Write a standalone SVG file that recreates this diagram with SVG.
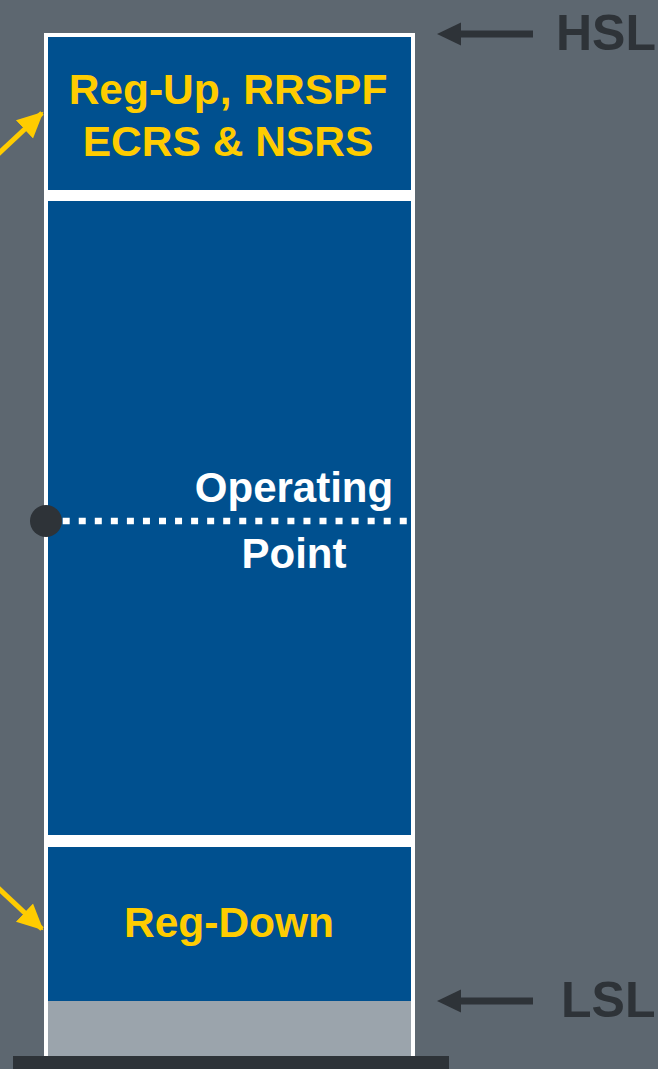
<svg xmlns="http://www.w3.org/2000/svg" width="658" height="1069" viewBox="0 0 658 1069">
<style>
.blue{fill:#00508f}
.y{fill:#ffcc00;font-family:"Liberation Sans",Arial,sans-serif;font-weight:bold;font-size:42.5px;text-anchor:middle}
.w{fill:#ffffff;font-family:"Liberation Sans",Arial,sans-serif;font-weight:bold;font-size:42px;text-anchor:middle}
.d{fill:#2e3338;font-family:"Liberation Sans",Arial,sans-serif;font-weight:bold;font-size:50px}
</style>
<defs>
<marker id="ya" markerUnits="userSpaceOnUse" markerWidth="30" markerHeight="30" viewBox="0 0 30 30" refX="24" refY="15" orient="auto">
<path d="M0,2.5 L26,15 L0,27.5 Z" fill="#ffcc00"/>
</marker>
<marker id="da" markerUnits="userSpaceOnUse" markerWidth="26" markerHeight="26" viewBox="0 0 26 26" refX="11" refY="13" orient="auto">
<path d="M0,1.5 L24,13 L0,24.5 Z" fill="#2e3338"/>
</marker>
</defs>
<rect x="0" y="0" width="658" height="1069" fill="#5d6770"/>
<g id="column">
<rect x="44" y="33" width="371" height="1030" fill="#ffffff"/>
<rect x="48" y="1001" width="363" height="62" fill="#9ba4ac"/>
<rect x="13" y="1056" width="436" height="13" fill="#2e3338"/>
</g>
<g id="regup">
<rect class="blue" x="48" y="37" width="363" height="153"/>
<text class="y" x="228" y="104">Reg-Up, RRSPF</text>
<text class="y" x="228" y="156">ECRS &amp; NSRS</text>
</g>
<g id="operating">
<rect class="blue" x="48" y="201" width="363" height="634"/>
<text class="w" x="294" y="502">Operating</text>
<text class="w" x="294" y="568">Point</text>
</g>
<g id="regdown">
<rect class="blue" x="48" y="847" width="363" height="154"/>
<text class="y" x="229" y="937">Reg-Down</text>
</g>
<g id="connectors">
<line x1="62.7" y1="521" x2="407" y2="521" stroke="#ffffff" stroke-width="6.7" stroke-dasharray="7 9.05"/>
<circle cx="46" cy="521" r="16" fill="#2e3338"/>
<line x1="-4" y1="156" x2="42" y2="113" stroke="#ffcc00" stroke-width="5" marker-end="url(#ya)"/>
<line x1="-4" y1="886" x2="42" y2="929" stroke="#ffcc00" stroke-width="5" marker-end="url(#ya)"/>
<line x1="533" y1="34" x2="450" y2="34" stroke="#2e3338" stroke-width="7" marker-end="url(#da)"/>
<line x1="533" y1="1001" x2="450" y2="1001" stroke="#2e3338" stroke-width="7" marker-end="url(#da)"/>
</g>
<g id="hsl"><text class="d" x="556" y="50">HSL</text></g>
<g id="lsl"><text class="d" x="561" y="1017">LSL</text></g>
</svg>
